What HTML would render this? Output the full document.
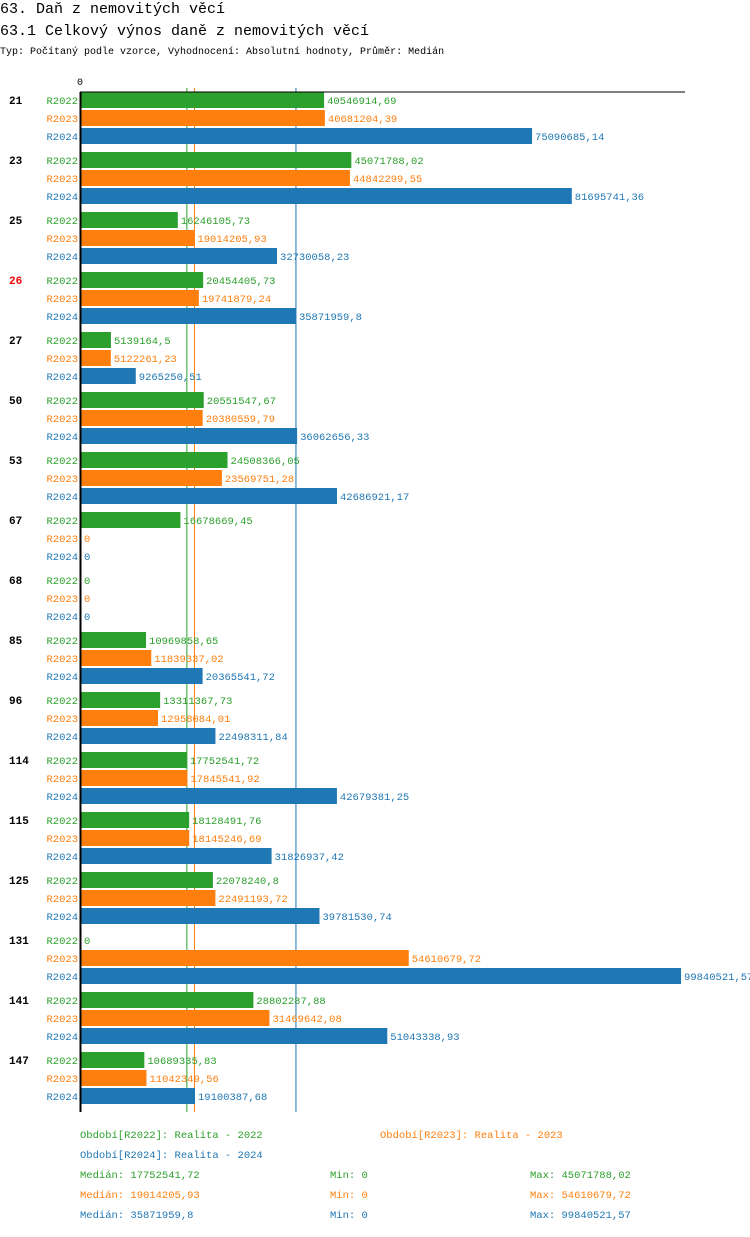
<!DOCTYPE html>
<html><head><meta charset="utf-8"><style>
body{margin:0;background:#fff;width:750px;height:1232px;overflow:hidden}
svg text{font-family:"Liberation Mono",monospace}
</style></head><body>
<svg width="750" height="1232" viewBox="0 0 750 1232" id="c">
<text x="0" y="13" font-size="15">63. Daň z nemovitých věcí</text>
<text x="0" y="35" font-size="15">63.1 Celkový výnos daně z nemovitých věcí</text>
<text x="0" y="54" font-size="10">Typ: Počítaný podle vzorce, Vyhodnocení: Absolutní hodnoty, Průměr: Medián</text>
<text x="77" y="85" font-size="10">0</text>
<g id="med"></g>
<g id="bars"></g>
<line x1="80" y1="92" x2="685" y2="92" stroke="#000" stroke-width="1"/>
<line x1="80.5" y1="92" x2="80.5" y2="1112" stroke="#000" stroke-width="2"/>
<g font-size="10.5">
<text x="80" y="1138" fill="#2ca02c">Období[R2022]: Realita - 2022</text>
<text x="380" y="1138" fill="#ff7f0e">Období[R2023]: Realita - 2023</text>
<text x="80" y="1158" fill="#1f77b4">Období[R2024]: Realita - 2024</text>
</g>
<g id="stats" font-size="10.5"></g>
</svg>
<script>
const categories=["21","23","25","26","27","50","53","67","68","85","96","114","115","125","131","141","147"];
const seriesNames=["R2022","R2023","R2024"];
const r2022=[40546914.69,45071788.02,16246105.73,20454405.73,5139164.5,20551547.67,24508366.05,16678669.45,0,10969858.65,13311367.73,17752541.72,18128491.76,22078240.8,0,28802287.88,10689335.83];
const r2023=[40681204.39,44842299.55,19014205.93,19741879.24,5122261.23,20380559.79,23569751.28,0,0,11839337.02,12958084.01,17845541.92,18145246.69,22491193.72,54610679.72,31469642.08,11042349.56];
const r2024=[75090685.14,81695741.36,32730058.23,35871959.8,9265250.51,36062656.33,42686921.17,0,0,20365541.72,22498311.84,42679381.25,31826937.42,39781530.74,99840521.57,51043338.93,19100387.68];
const medians=[17752541.72,19014205.93,35871959.8];
const mins=[0,0,0];
const maxs=[45071788.02,54610679.72,99840521.57];
const colors=["#2ca02c","#ff7f0e","#1f77b4"];
const NS="http://www.w3.org/2000/svg";
const x=v=>80+v*6.02e-6;
const fmt=v=>String(v).replace('.',',');
const series=[r2022,r2023,r2024];
function mk(t,a,p){const e=document.createElementNS(NS,t);for(const k in a)e.setAttribute(k,a[k]);p.appendChild(e);return e;}
const g=document.getElementById('bars');
categories.forEach((cat,i)=>{
  const gy=92+i*60;
  const ct=mk('text',{x:9,y:gy+12,'font-size':11,'font-weight':'bold',fill:cat==="26"?"#e00":"#000"},g);
  
  
  ct.textContent=cat;
  series.forEach((s,j)=>{
    const y=gy+j*18;
    const lt=mk('text',{x:78,y:y+12,'font-size':10.5,fill:colors[j],'text-anchor':'end'},g);
    
    
    lt.textContent=seriesNames[j];
    const v=s[i];
    if(v>0){
      const r=mk('rect',{x:81,y:y,width:x(v)-81,height:16,fill:colors[j]},g);
      
      
    }
    const vt=mk('text',{x:(v>0?x(v):81)+3,y:y+12,'font-size':10.5,fill:colors[j]},g);
    
    
    vt.textContent=fmt(v);
  });
});
const m=document.getElementById('med');
medians.forEach((v,j)=>{
  const l=mk('line',{x1:x(v),x2:x(v),y1:88,y2:1112,stroke:colors[j],'stroke-width':1},m);
  
  
});
const st=document.getElementById('stats');
medians.forEach((v,j)=>{
  const y=1178+j*20;
  const a=mk('text',{x:80,y:y,fill:colors[j]},st);
  
  
  a.textContent='Medián: '+fmt(v);
  const b=mk('text',{x:330,y:y,fill:colors[j]},st);
  
  
  b.textContent='Min: '+fmt(mins[j]);
  const c=mk('text',{x:530,y:y,fill:colors[j]},st);
  
  
  c.textContent='Max: '+fmt(maxs[j]);
});
</script>
</body></html>
